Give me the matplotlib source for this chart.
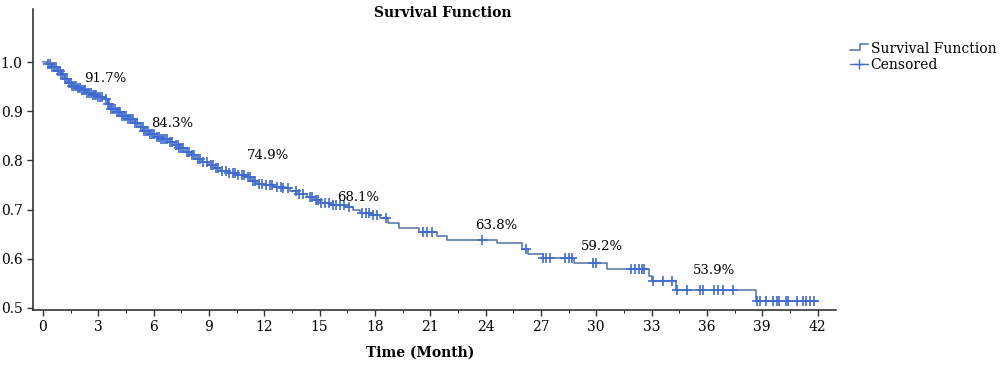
import numpy as np
import matplotlib
matplotlib.use("Agg")
import matplotlib.pyplot as plt
from matplotlib.lines import Line2D
from matplotlib.legend_handler import HandlerBase

plt.rcParams['font.family'] = ['DejaVu Serif']

# step points of the survival curve (time in months, survival after the step)
step_time = [0.0, 0.3, 0.5, 0.8, 1.0, 1.2, 1.4, 1.6, 1.9, 2.1, 2.4, 2.7, 3.0, 3.3,
             3.5, 3.7, 4.0, 4.3, 4.6, 5.0, 5.2, 5.5, 5.8, 6.1, 6.4, 6.8, 7.1, 7.4,
             7.7, 8.0, 8.3, 8.6, 9.0, 9.3, 9.6, 10.0, 10.5, 11.0, 11.3, 11.6, 12.0,
             12.5, 13.0, 13.4, 13.8, 14.3, 14.7, 15.0, 15.6, 16.4, 16.8, 17.2, 17.8,
             18.3, 18.7, 19.3, 20.4, 21.35, 21.9, 24.6, 26.0, 26.3, 27.1, 28.8,
             30.6, 32.85, 33.0, 34.35, 38.65]
step_surv = [1.0, 0.997, 0.99, 0.982, 0.975, 0.966, 0.958, 0.952, 0.947, 0.943,
             0.938, 0.934, 0.930, 0.925, 0.915, 0.905, 0.898, 0.890, 0.884, 0.876,
             0.868, 0.860, 0.853, 0.848, 0.843, 0.838, 0.832, 0.826, 0.818, 0.811,
             0.803, 0.797, 0.791, 0.785, 0.779, 0.775, 0.771, 0.766, 0.759, 0.752,
             0.749, 0.746, 0.743, 0.737, 0.731, 0.726, 0.720, 0.713, 0.710, 0.705,
             0.699, 0.692, 0.688, 0.683, 0.673, 0.663, 0.655, 0.647, 0.639, 0.631,
             0.620, 0.610, 0.602, 0.592, 0.580, 0.565, 0.554, 0.537, 0.514]
end_time = 42.0

# censored observations (months)
censor_time = [0.3, 0.4, 0.5, 0.6, 0.7, 0.8, 0.9, 1.0, 1.1, 1.2, 1.3, 1.4, 1.5,
               1.6, 1.7, 1.8, 1.9, 2.0, 2.1, 2.2, 2.3, 2.4, 2.5, 2.6, 2.7, 2.8,
               2.9, 3.0, 3.1, 3.2, 3.4, 3.5, 3.6, 3.7, 3.8, 3.9, 4.0, 4.1, 4.2,
               4.3, 4.4, 4.5, 4.6, 4.7, 4.8, 4.9, 5.0, 5.1, 5.3, 5.4, 5.5, 5.6,
               5.7, 5.8, 5.9, 6.0, 6.2, 6.3, 6.4, 6.5, 6.6, 6.7, 6.9, 7.0, 7.2,
               7.3, 7.4, 7.5, 7.6, 7.8, 7.9, 8.1, 8.2, 8.4, 8.5, 8.7, 8.9, 9.1,
               9.2, 9.4, 9.5, 9.7, 9.9, 10.1, 10.3, 10.4, 10.6, 10.8, 10.9, 11.1,
               11.2, 11.4, 11.5, 11.7, 11.9, 12.1, 12.3, 12.4, 12.7, 12.9, 13.0,
               13.3, 13.7, 13.9, 14.1, 14.5, 14.6, 14.8, 14.9, 15.1, 15.3, 15.5,
               15.7, 15.9, 16.1, 16.3, 16.6, 17.3, 17.5, 17.7, 17.9, 18.1,
               18.6, 20.6, 20.8, 21.1, 23.8, 26.2, 27.1, 27.3, 27.5, 28.3, 28.5,
               28.7, 29.8, 30.0, 31.9, 32.1, 32.3, 32.5, 32.6, 33.1, 33.6, 34.1,
               34.4, 34.9, 35.6, 35.8, 36.4, 36.6, 36.9, 37.4, 38.7, 38.9, 39.2,
               39.6, 39.8, 39.9, 40.3, 40.4, 40.9, 41.2, 41.4, 41.6, 41.8]

# percentage labels
label_text = ['91.7%', '84.3%', '74.9%', '68.1%', '63.8%', '59.2%', '53.9%']
label_x = [3.4, 7.0, 12.2, 17.1, 24.6, 30.3, 36.4]
label_y = [0.966, 0.876, 0.810, 0.724, 0.668, 0.625, 0.575]

line_color = '#52719f'
mark_color = '#3f6bd0'


class StepHandler(HandlerBase):
    def create_artists(self, legend, orig, xd, yd, w, h, fontsize, trans):
        xs = [xd, xd + w * 0.55, xd + w * 0.55, xd + w]
        ys = [yd + h * 0.3, yd + h * 0.3, yd + h * 0.85, yd + h * 0.85]
        ln = Line2D(xs, ys, color=orig.get_color(), lw=orig.get_linewidth())
        ln.set_transform(trans)
        return [ln]


fig = plt.figure(figsize=(10, 3.76), dpi=100)
ax = fig.add_axes([0.033, 0.176, 0.803, 0.80])

t = np.array(step_time + [end_time])
s = np.array(step_surv + [step_surv[-1]])
ax.step(t, s, where='post', color=line_color, lw=1.1)

ct = np.array(censor_time)
idx = np.searchsorted(np.array(step_time), ct, side='right') - 1
cs = np.array(step_surv)[idx]
ax.plot(ct, cs, '+', color=mark_color, ms=7, mew=1.2, ls='none')

for txt, x, y in zip(label_text, label_x, label_y):
    ax.text(x, y, txt, ha='center', va='center', fontsize=9.5)

ax.set_xlim(-0.54, 43.0)
ax.set_ylim(0.496, 1.108)
ax.set_xticks(np.arange(0, 43, 3))
ax.set_xticks(np.arange(1.5, 43, 3), minor=True)
ax.set_yticks([0.5, 0.6, 0.7, 0.8, 0.9, 1.0])
ax.set_yticklabels(['0.5', '0.6', '0.7', '0.8', '0.9', '1.0'])
ax.tick_params(axis='both', labelsize=10, length=4, width=1, color='#333333')
ax.tick_params(axis='x', which='minor', length=2)
for sp in ['top', 'right']:
    ax.spines[sp].set_visible(False)
for sp in ['left', 'bottom']:
    ax.spines[sp].set_color('#333333')
    ax.spines[sp].set_linewidth(1.2)

fig.text(0.443, 0.965, 'Survival Function', ha='center', va='center',
         fontsize=10, fontweight='bold')
fig.text(0.42, 0.062, 'Time (Month)', ha='center', va='center',
         fontsize=10, fontweight='bold')

surv_handle = Line2D([], [], color=line_color, lw=1.1)
cens_handle = Line2D([], [], color=line_color, lw=1.0, marker='+', ms=7,
                     mec=mark_color)
fig.legend([surv_handle, cens_handle], ['Survival Function', 'Censored'],
           loc='upper left', bbox_to_anchor=(0.84, 0.915), frameon=False,
           fontsize=10, handlelength=1.3, handletextpad=0.2,
           labelspacing=0.15, borderpad=0.2,
           handler_map={surv_handle: StepHandler()})

fig.savefig('out.png', dpi=100)
